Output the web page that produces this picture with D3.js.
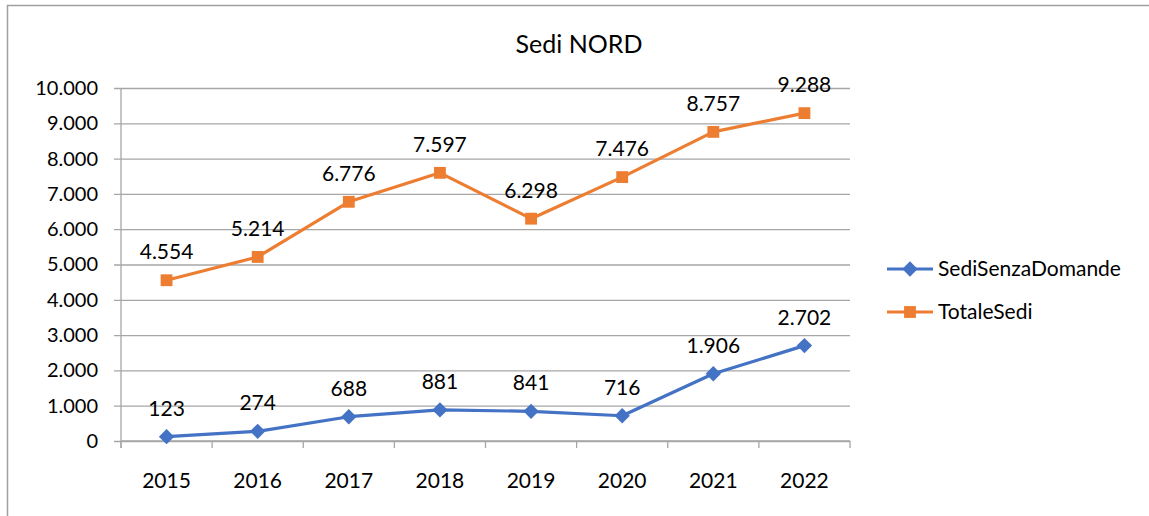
<!DOCTYPE html>
<html>
<head>
<meta charset="utf-8">
<script src="https://cdn.jsdelivr.net/npm/d3@7"></script>
<style>
    body { margin: 0; background: #fff; }
    text { font-family: Lato, "Open Sans", sans-serif; fill: #000; }
</style>
</head>
<body>
<div id="chart"></div>
<script>
// data
const years = ["2015", "2016", "2017", "2018", "2019", "2020", "2021", "2022"];
const sediSenzaDomande = [123, 274, 688, 881, 841, 716, 1906, 2702];
const totaleSedi = [4554, 5214, 6776, 7597, 6298, 7476, 8757, 9288];
const yTicks = [0, 1000, 2000, 3000, 4000, 5000, 6000, 7000, 8000, 9000, 10000];

const series = [
    {name: "SediSenzaDomande", values: sediSenzaDomande, color: "#4472C4", marker: "diamond"},
    {name: "TotaleSedi", values: totaleSedi, color: "#ED7D31", marker: "square"}
];

const width = 1149, height = 516;
const plot = {left: 121, top: 88, right: 850, bottom: 441};

// it-IT style thousands separator
const fmt = v => d3.format(",")(v).replace(/,/g, ".");

const svg = d3.select("#chart").append("svg")
    .attr("width", width)
    .attr("height", height);

// chart frame (only top and left visible in the reference)
svg.append("line").attr("x1", 7).attr("x2", width).attr("y1", 5.5).attr("y2", 5.5)
    .attr("stroke", "#a0a0a0").attr("stroke-width", 1.5);
svg.append("line").attr("x1", 7.5).attr("x2", 7.5).attr("y1", 5).attr("y2", height)
    .attr("stroke", "#a0a0a0").attr("stroke-width", 1.5);

// title
svg.append("text")
    .attr("x", 579).attr("y", 53)
    .attr("text-anchor", "middle")
    .style("font-size", "25px")
    .text("Sedi NORD");

const x = d3.scaleBand().domain(years).range([plot.left, plot.right]);
const y = d3.scaleLinear().domain([0, 10000]).range([plot.bottom, plot.top]);

// gridlines + y labels
const yAxis = d3.axisLeft(y).tickValues(yTicks).tickFormat(fmt)
    .tickSize(-(plot.right - plot.left)).tickPadding(23);
const gy = svg.append("g").attr("transform", "translate(" + plot.left + ",0)").call(yAxis);
gy.select(".domain").remove();
gy.selectAll(".tick line").attr("stroke", "#a6a6a6").attr("stroke-width", 1.3).attr("x1", -7);
gy.selectAll(".tick text").style("font-size", "20px").style("font-family", "Lato, sans-serif").attr("fill", "#000");

// y axis line
svg.append("line")
    .attr("x1", plot.left).attr("x2", plot.left)
    .attr("y1", plot.top).attr("y2", plot.bottom + 7)
    .attr("stroke", "#a6a6a6").attr("stroke-width", 1.3);

// x axis with ticks at category boundaries
svg.append("line")
    .attr("x1", plot.left).attr("x2", plot.right)
    .attr("y1", y(0)).attr("y2", y(0))
    .attr("stroke", "#a6a6a6").attr("stroke-width", 1.3);
svg.append("g").selectAll("line")
    .data(years.concat(["end"]))
    .enter().append("line")
    .attr("x1", (d, i) => plot.left + i * x.step())
    .attr("x2", (d, i) => plot.left + i * x.step())
    .attr("y1", y(0)).attr("y2", y(0) + 7)
    .attr("stroke", "#a6a6a6").attr("stroke-width", 1.3);
svg.append("g").selectAll("text")
    .data(years)
    .enter().append("text")
    .attr("x", d => x(d) + x.bandwidth() / 2)
    .attr("y", 488)
    .attr("text-anchor", "middle")
    .style("font-size", "21px")
    .text(d => d);

const line = d3.line()
    .x((d, i) => x(years[i]) + x.bandwidth() / 2)
    .y(d => y(d));

const symbolFor = m => m === "diamond"
    ? d3.symbol().type(d3.symbolDiamond2).size(150)
    : d3.symbol().type(d3.symbolSquare).size(140);

series.forEach(s => {
    const g = svg.append("g");
    g.append("path")
        .datum(s.values)
        .attr("d", line)
        .attr("fill", "none")
        .attr("stroke", s.color)
        .attr("stroke-width", 3.2)
        .attr("stroke-linejoin", "round");

    g.selectAll("path.marker")
        .data(s.values)
        .enter().append("path")
        .attr("class", "marker")
        .attr("d", symbolFor(s.marker))
        .attr("transform", (d, i) => "translate(" + (x(years[i]) + x.bandwidth() / 2) + "," + y(d) + ")")
        .attr("fill", s.color);

    g.selectAll("text")
        .data(s.values)
        .enter().append("text")
        .attr("x", (d, i) => x(years[i]) + x.bandwidth() / 2)
        .attr("y", d => y(d) - 21)
        .attr("text-anchor", "middle")
        .style("font-size", "21px")
        .text(d => fmt(d));
});

// legend
const legend = svg.append("g");
series.forEach((s, i) => {
    const ly = 269 + i * 43;
    legend.append("line")
        .attr("x1", 887).attr("x2", 933)
        .attr("y1", ly).attr("y2", ly)
        .attr("stroke", s.color).attr("stroke-width", 3.2);
    legend.append("path")
        .attr("d", symbolFor(s.marker))
        .attr("transform", "translate(910," + ly + ")")
        .attr("fill", s.color);
    legend.append("text")
        .attr("x", 938).attr("y", ly + 7)
        .style("font-size", "21px")
        .text(s.name);
});
</script>
</body>
</html>
